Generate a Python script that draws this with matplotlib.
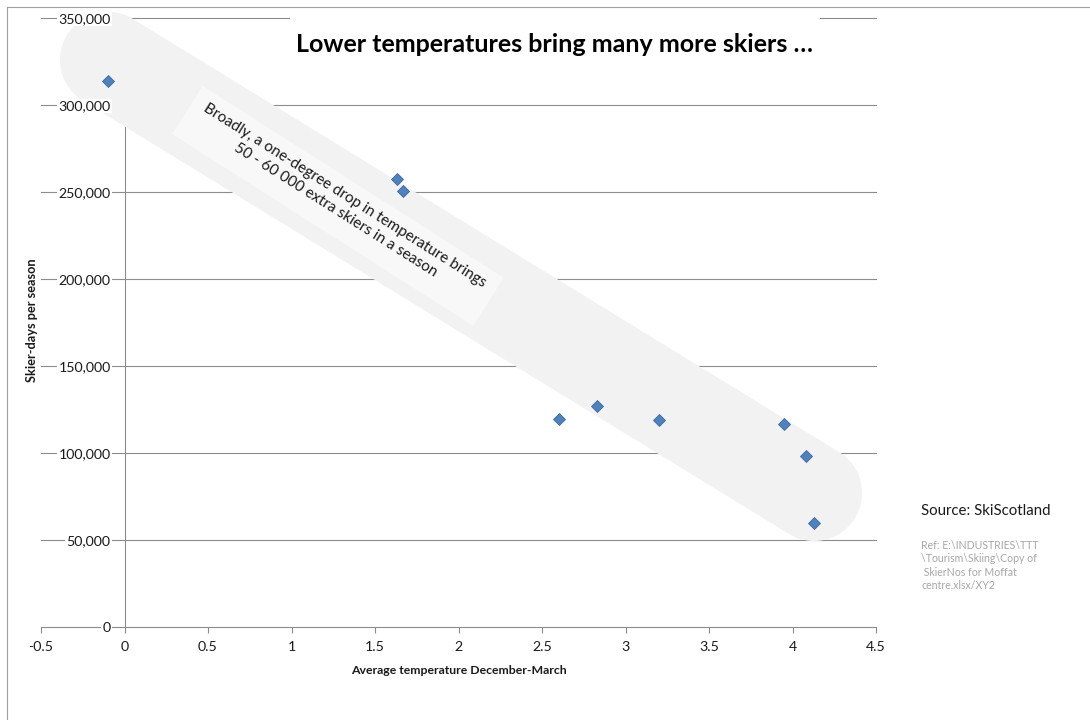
import numpy as np
import matplotlib
matplotlib.use("Agg")
import matplotlib.pyplot as plt
from matplotlib.patches import Polygon, Rectangle
from matplotlib.lines import Line2D
from matplotlib.ticker import FuncFormatter

plt.rcParams['font.family'] = ['Lato', 'DejaVu Sans']

# ---- data ----
temperature = [-0.10, 1.63, 1.67, 2.60, 2.83, 3.20, 3.95, 4.08, 4.13]
skier_days = [313800, 257500, 250600, 119500, 127000, 118800, 116800, 98300, 60000]

x_ticks = [-0.5, 0, 0.5, 1, 1.5, 2, 2.5, 3, 3.5, 4, 4.5]
y_ticks = [0, 50000, 100000, 150000, 200000, 250000, 300000, 350000]

title = "Lower temperatures bring many more skiers \u2026"
x_label = "Average temperature December-March"
y_label = "Skier-days per season"
note = "Broadly, a one-degree drop in temperature brings\n50 - 60 000 extra skiers in a season"
source = "Source: SkiScotland"
ref = "Ref: E:\\INDUSTRIES\\TTT\n\\Tourism\\Skiing\\Copy of\n SkierNos for Moffat\ncentre.xlsx/XY2"

W, H = 1090, 720
fig = plt.figure(figsize=(W / 100, H / 100), dpi=100)
fig.patch.set_facecolor('white')

def fx(px):
    return px / W

def fy(py):
    return 1 - py / H

ax = fig.add_axes([fx(41), fy(627), (876 - 41) / W, (627 - 18) / H])
ax.set_xlim(-0.5, 4.5)
ax.set_ylim(0, 350000)
ax.set_facecolor('none')

grid_col = '#8c8c8c'
for v in y_ticks[1:]:
    ax.axhline(v, color=grid_col, lw=0.8, zorder=0.5, clip_on=False)

for s in ['top', 'right']:
    ax.spines[s].set_visible(False)
ax.spines['left'].set_position(('data', 0))
for s in ['left', 'bottom']:
    ax.spines[s].set_color(grid_col)
    ax.spines[s].set_zorder(0.6)
    ax.spines[s].set_linewidth(0.8)

ax.set_xticks(x_ticks)
ax.set_xticklabels([f"{t:g}" for t in x_ticks])
ax.set_yticks(y_ticks)
ax.yaxis.set_major_formatter(FuncFormatter(lambda v, p: f"{int(v):,}"))
ax.tick_params(axis='x', direction='out', length=4, width=0.8, color=grid_col,
               labelsize=10.2, pad=6, labelcolor='#1a1a1a')
ax.tick_params(axis='y', length=0, labelsize=10.2, pad=10, labelcolor='#1a1a1a')
ax.yaxis.set_zorder(3)
for lbl in ax.get_yticklabels():
    lbl.set_bbox(dict(facecolor='white', edgecolor='none', pad=1))

ax.set_xlabel(x_label, fontsize=8.8, fontweight='bold', labelpad=9, color='#1a1a1a')
fig.text(fx(32), fy(320), y_label, rotation=90, ha='center', va='center',
         fontsize=9.2, fontweight='bold', color='#1a1a1a')

fig.canvas.draw()

# ---- grey band (stadium) ----
to_disp = ax.transData.transform
to_data = ax.transData.inverted().transform
c1 = to_disp((-0.099, 325900))
c2 = to_disp((4.129, 77000))
r = 48
u = (c2 - c1) / np.hypot(*(c2 - c1))
a = np.degrees(np.arctan2(u[1], u[0]))
th2 = np.radians(np.linspace(a - 90, a + 90, 60))
th1 = np.radians(np.linspace(a + 90, a + 270, 60))
pts = np.vstack([
    np.column_stack([c2[0] + r * np.cos(th2), c2[1] + r * np.sin(th2)]),
    np.column_stack([c1[0] + r * np.cos(th1), c1[1] + r * np.sin(th1)]),
])
ax.add_patch(Polygon(to_data(pts), closed=True, facecolor='#f2f2f2',
                     edgecolor='none', zorder=1, clip_on=False))

# ---- note box ----
cc = to_disp((1.278, 242000))
ang = np.radians(-32.5)
ub = np.array([np.cos(ang), np.sin(ang)])
nb = np.array([-ub[1], ub[0]])
L, Wd = 357, 57
corners = np.array([cc - ub * L / 2 + nb * Wd / 2, cc + ub * L / 2 + nb * Wd / 2,
                    cc + ub * L / 2 - nb * Wd / 2, cc - ub * L / 2 - nb * Wd / 2])
ax.add_patch(Polygon(to_data(corners), closed=True, facecolor='#f8f8f8',
                     edgecolor='none', zorder=1.5, clip_on=False))
ax.text(1.290, 243700, note, rotation=-32.3, rotation_mode='anchor',
        ha='center', va='center', multialignment='center', fontsize=11,
        linespacing=1.3, color='#1a1a1a', zorder=2)

# ---- points ----
ax.plot(temperature, skier_days, linestyle='none', marker='D', markersize=6,
        markerfacecolor='#4f81bd', markeredgecolor='#3d6aa0', markeredgewidth=0.6,
        zorder=4, clip_on=False)

# ---- title with white backing ----
fig.add_artist(Rectangle((fx(290), fy(75)), fx(820) - fx(290), fy(10) - fy(75),
                         transform=fig.transFigure, facecolor='white',
                         edgecolor='none', zorder=1))
fig.text(fx(554), fy(45), title, ha='center', va='center', fontsize=18,
         fontweight='bold', color='black', zorder=2)

# ---- source / ref ----
fig.text(fx(921), fy(511), source, ha='left', va='center', fontsize=10.8, color='#1a1a1a')
fig.text(fx(921), fy(540), ref, ha='left', va='top', fontsize=7.6, color='#a6a6a6',
         linespacing=1.25)

# ---- outer border ----
bc = '#a0a0a0'
fig.add_artist(Line2D([fx(7), fx(W + 5)], [fy(7), fy(7)], transform=fig.transFigure,
                      color=bc, lw=0.8))
fig.add_artist(Line2D([fx(7), fx(7)], [fy(7), fy(H + 5)], transform=fig.transFigure,
                      color=bc, lw=0.8))

fig.savefig('out.png', dpi=100, facecolor='white')
